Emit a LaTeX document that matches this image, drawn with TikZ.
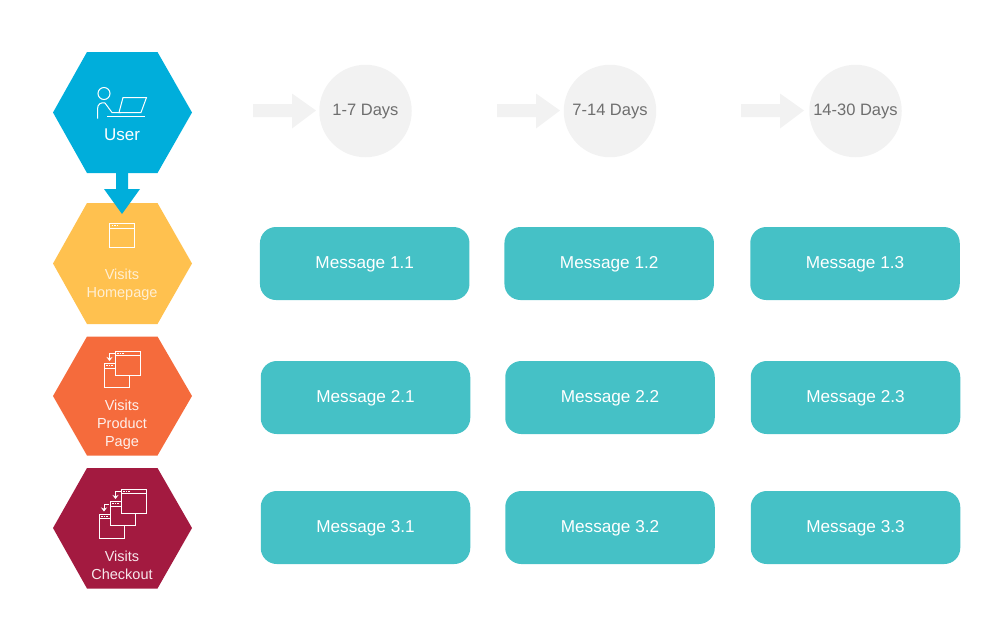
\documentclass[tikz,border=0pt]{standalone}
\usepackage{fontspec}
\setmainfont{Liberation Sans}
\usetikzlibrary{arrows.meta}
\definecolor{cblue}{HTML}{00AEDB}
\definecolor{cyellow}{HTML}{FFC14F}
\definecolor{corange}{HTML}{F56B3C}
\definecolor{ccrimson}{HTML}{A31A40}
\definecolor{cteal}{HTML}{45C1C6}
\definecolor{cgray}{HTML}{F2F2F2}
\definecolor{ctext}{HTML}{6E6E6E}
\tikzset{
  msgbox/.style={fill=cteal,rounded corners=16pt,minimum width=209.5pt,minimum height=73pt,inner sep=0pt,text=white,text height=14.4pt,text depth=3.6pt,font=\fontsize{17.2}{18}\selectfont},
  daycirc/.style={circle,fill=cgray,minimum size=92.5pt,inner sep=0pt},
  daytext/.style={text=ctext,inner sep=0pt,font=\fontsize{16.5}{18}\selectfont},
  hexlabel/.style={text=white,align=center,inner sep=0pt,font=\fontsize{14.5}{18}\selectfont},
  icon/.style={draw=white,line width=1pt,line join=miter},
  winicon/.pic={
    \draw[icon] (-12.5,-12) rectangle (12.5,12);
    \draw[icon] (-12.5,-7.5) -- (12.5,-7.5);
    \draw[white,line width=1pt,dash pattern=on 1.5pt off 1.2pt] (-10.5,-9.8) -- (-3,-9.8);
  },
  backarrow/.pic={
    \draw[icon,line width=1pt,-{Stealth[length=4pt,width=6pt]}] (1.5,0) -- (-3.5,0) -- (-3.5,7.5);
  },
  grayarrow/.pic={
    \fill[cgray] (0,-6.5) -- (39,-6.5) -- (39,-17) -- (63,0) -- (39,18) -- (39,6.5) -- (0,6.5) -- cycle;
  }
}
\begin{document}
\begin{tikzpicture}[x=1pt,y=-1pt]
\useasboundingbox (0,0) rectangle (1000,641);
% hexagons
\fill[cyellow] (53,263.5) -- (87,203) -- (157.5,203) -- (192,263.5) -- (157.5,324) -- (87,324) -- cycle;
\fill[cblue] (53,112.5) -- (87,52) -- (157.5,52) -- (192,112.5) -- (157.5,173) -- (87,173) -- cycle;
\fill[cblue] (116,173) -- (128,173) -- (128,189) -- (140,189) -- (122,214) -- (104,189) -- (116,189) -- cycle;
\fill[corange] (53,396) -- (87,336.5) -- (157.5,336.5) -- (192,396) -- (157.5,455.5) -- (87,455.5) -- cycle;
\fill[ccrimson] (53,528) -- (87,468) -- (157.5,468) -- (192,528) -- (157.5,588.5) -- (87,588.5) -- cycle;
% user icon
\draw[icon] (104,93.5) circle (6);
\draw[icon] (97.5,118.5) -- (97.5,109) .. controls (97.5,104) and (101,102) .. (105,103) -- (112,112.5) -- (121,112.5);
\draw[icon] (123,97.5) -- (146.5,97.5) -- (141,112.5) -- (119,112.5) -- cycle;
\draw[icon] (107,116.5) -- (145,116.5);
% other icons
\pic at (122,235.5) {winicon};
\pic at (116.5,375.5) {winicon};
\fill[corange] (115,362.5) rectangle (130,375.5);
\pic at (127.5,363) {winicon};
\pic at (113,353.5) {backarrow};
\pic at (111.5,526) {winicon};
\fill[ccrimson] (110,513.5) rectangle (125,525.5);
\pic at (122.5,513.5) {winicon};
\fill[ccrimson] (121,500.5) rectangle (136,513);
\pic at (133.5,501) {winicon};
\pic at (119,491.5) {backarrow};
\pic at (107.5,504) {backarrow};
% hex labels
\node[hexlabel,font=\fontsize{17}{18}\selectfont] (user) at (122,134.5) {User};
\node[hexlabel,text=white!75!cyellow] (home) at (122,285) {Visits\\Homepage};
\node[hexlabel,text=white!90!corange] (prod) at (122,425) {Visits\\Product\\Page};
\node[hexlabel,text=white!90!ccrimson] (chk) at (122,565) {Visits\\Checkout};
% day headers
\node[daycirc] (d1) at (365.5,111) {};
\node[daycirc] (d2) at (610,111) {};
\node[daycirc] (d3) at (855.5,111) {};
\pic at (253,110.5) {grayarrow};
\pic at (497,110.5) {grayarrow};
\pic at (741,110.5) {grayarrow};
\node[daytext] (t1) at (365.5,111.3) {1-7 Days};
\node[daytext] (t2) at (610,111.3) {7-14 Days};
\node[daytext] (t3) at (855.5,111.3) {14-30 Days};
% messages
\node[msgbox] (m11) at (364.7,263.5) {Message 1.1};
\node[msgbox] (m12) at (609.2,263.5) {Message 1.2};
\node[msgbox] (m13) at (855,263.5) {Message 1.3};
\node[msgbox] (m21) at (365.5,397.5) {Message 2.1};
\node[msgbox] (m22) at (610,397.5) {Message 2.2};
\node[msgbox] (m23) at (855.5,397.5) {Message 2.3};
\node[msgbox] (m31) at (365.5,527.5) {Message 3.1};
\node[msgbox] (m32) at (610,527.5) {Message 3.2};
\node[msgbox] (m33) at (855.5,527.5) {Message 3.3};
\end{tikzpicture}
\end{document}
